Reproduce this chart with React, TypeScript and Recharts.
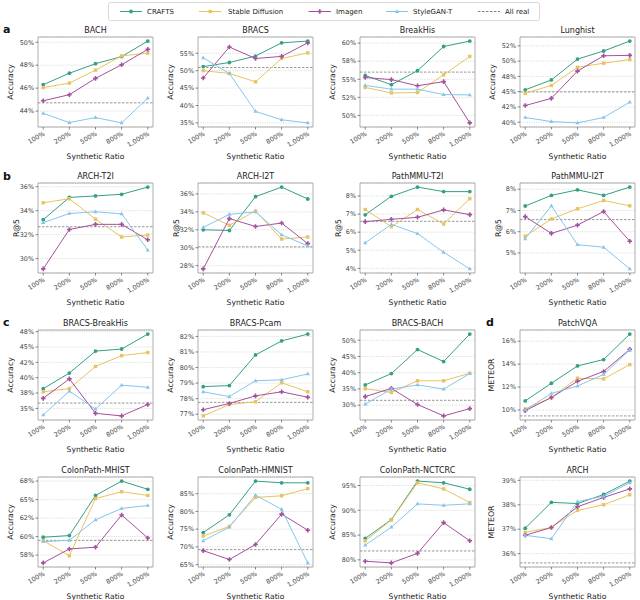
import React from "react";
import { LineChart, Line, XAxis, YAxis, CartesianGrid, ReferenceLine, ReferenceArea } from "recharts";

const RATIOS = ["100%", "200%", "500%", "800%", "1,000%"];

// ---- a ----
const BACH_CRAFTS = [46.3, 47.3, 48.13, 48.75, 50.1];
const BACH_SD = [46.05, 46.44, 47.57, 48.81, 49.05];
const BACH_IMAGEN = [44.9, 45.43, 46.85, 48.04, 49.38];
const BACH_STYLEGAN = [43.8, 43.0, 43.44, 42.97, 45.13];
const BACH_REAL = 44.72;

const BRACS_CRAFTS = [51.18, 52.35, 54.2, 58.0, 58.5];
const BRACS_SD = [50.0, 49.2, 46.8, 53.5, 55.1];
const BRACS_IMAGEN = [47.9, 56.8, 53.5, 54.1, 58.0];
const BRACS_STYLEGAN = [53.7, 49.2, 38.3, 35.9, 35.0];
const BRACS_REAL = 50.9;

const BREAKHIS_CRAFTS = [55.52, 54.25, 56.18, 59.53, 60.28];
const BREAKHIS_SD = [53.87, 53.11, 53.16, 55.61, 58.16];
const BREAKHIS_IMAGEN = [55.24, 54.95, 54.1, 54.67, 48.96];
const BREAKHIS_STYLEGAN = [54.15, 53.63, 53.63, 52.88, 52.83];
const BREAKHIS_REAL = 55.99;

const LUNG_CRAFTS = [45.3, 46.92, 50.33, 51.66, 53.28];
const LUNG_SD = [44.74, 46.03, 48.99, 49.66, 50.27];
const LUNG_IMAGEN = [42.73, 43.91, 48.37, 50.88, 50.94];
const LUNG_STYLEGAN = [40.78, 40.11, 39.89, 40.78, 43.29];
const LUNG_REAL = 44.97;

// ---- b ----
const AT2I_CRAFTS = [33.25, 35.11, 35.23, 35.37, 35.97];
const AT2I_SD = [34.66, 35.0, 33.29, 31.8, 31.97];
const AT2I_IMAGEN = [29.14, 32.43, 32.86, 32.86, 31.57];
const AT2I_STYLEGAN = [33.0, 33.77, 33.91, 33.74, 30.71];
const AT2I_REAL = 32.66;

const AI2T_CRAFTS = [32.0, 31.92, 35.69, 36.76, 35.43];
const AI2T_SD = [33.89, 32.5, 34.1, 30.97, 31.2];
const AI2T_IMAGEN = [27.64, 33.25, 32.37, 32.75, 30.46];
const AI2T_STYLEGAN = [32.27, 33.72, 34.0, 31.44, 30.2];
const AI2T_REAL = 30.1;

const PT2I_CRAFTS = [6.96, 7.98, 8.49, 8.24, 8.24];
const PT2I_SD = [7.25, 6.3, 7.25, 6.45, 7.85];
const PT2I_IMAGEN = [6.58, 6.71, 6.82, 7.23, 6.97];
const PT2I_STYLEGAN = [5.41, 6.43, 5.92, 4.89, 3.97];
const PT2I_REAL = 6.6;

const PI2T_CRAFTS = [7.21, 7.71, 7.97, 7.71, 8.1];
const PI2T_SD = [5.79, 6.6, 7.08, 7.47, 7.22];
const PI2T_IMAGEN = [6.71, 5.92, 6.31, 6.95, 5.55];
const PI2T_STYLEGAN = [5.67, 7.22, 5.39, 5.27, 4.25];
const PI2T_REAL = 6.57;

// ---- c ----
const BBH_CRAFTS = [38.22, 40.76, 44.33, 44.67, 47.1];
const BBH_SD = [37.71, 38.22, 41.84, 43.59, 44.1];
const BBH_IMAGEN = [36.64, 39.81, 34.2, 33.78, 35.64];
const BBH_STYLEGAN = [33.94, 37.82, 34.9, 38.78, 38.44];
const BBH_REAL = 35.87;

const BPC_CRAFTS = [78.77, 78.84, 80.81, 81.71, 82.15];
const BPC_SD = [76.89, 77.62, 77.8, 79.02, 78.44];
const BPC_IMAGEN = [77.29, 77.69, 78.18, 78.44, 78.09];
const BPC_STYLEGAN = [78.44, 78.13, 79.15, 79.21, 79.59];
const BPC_REAL = 77.76;

const BBA_CRAFTS = [36.24, 39.74, 47.14, 43.44, 51.9];
const BBA_SD = [35.08, 33.92, 37.51, 37.51, 39.84];
const BBA_IMAGEN = [32.65, 35.19, 30.21, 26.7, 28.94];
const BBA_STYLEGAN = [30.32, 34.97, 36.24, 34.97, 39.74];
const BBA_REAL = 31.5;

// ---- d ----
const PVQA_CRAFTS = [10.79, 12.33, 13.84, 14.4, 16.62];
const PVQA_SD = [10.09, 11.08, 12.77, 12.71, 13.96];
const PVQA_IMAGEN = [9.94, 11.08, 12.5, 13.36, 15.29];
const PVQA_STYLEGAN = [10.0, 11.44, 12.09, 13.1, 15.23];
const PVQA_REAL = 9.48;

const MHIST_CRAFTS = [59.91, 60.14, 65.56, 67.5, 66.39];
const MHIST_SD = [59.44, 57.41, 65.14, 66.06, 65.56];
const MHIST_IMAGEN = [56.44, 58.33, 58.56, 62.92, 59.81];
const MHIST_STYLEGAN = [59.31, 59.49, 62.27, 63.8, 64.21];
const MHIST_REAL = 59.49;

const HMNIST_CRAFTS = [74.04, 79.04, 88.56, 88.08, 88.08];
const HMNIST_SD = [73.08, 75.77, 83.94, 84.42, 86.44];
const HMNIST_IMAGEN = [68.94, 66.44, 70.67, 79.23, 74.71];
const HMNIST_STYLEGAN = [71.73, 75.58, 84.62, 80.58, 65.48];
const HMNIST_REAL = 69.23;

const NCT_CRAFTS = [84.33, 88.12, 95.89, 95.55, 94.24];
const NCT_SD = [83.85, 88.05, 95.55, 94.31, 91.56];
const NCT_IMAGEN = [79.72, 79.38, 81.3, 87.5, 83.85];
const NCT_STYLEGAN = [82.96, 86.6, 91.29, 91.01, 91.29];
const NCT_REAL = 81.79;

const ARCH_CRAFTS = [37.04, 38.1, 38.05, 38.42, 38.97];
const ARCH_SD = [36.87, 37.07, 37.77, 38.0, 38.41];
const ARCH_IMAGEN = [36.75, 37.07, 37.92, 38.3, 38.65];
const ARCH_STYLEGAN = [36.75, 36.61, 38.13, 38.35, 38.9];
const ARCH_REAL = 35.62;

type Panel = {
  title: string;
  ylabel: string;
  crafts: number[];
  sd: number[];
  imagen: number[];
  stylegan: number[];
  real: number;
  ticks: number[];
  tickLabels: string[];
  col: number;
  row: number;
};

const PANELS: Panel[] = [
  { title: "BACH", ylabel: "Accuracy", crafts: BACH_CRAFTS, sd: BACH_SD, imagen: BACH_IMAGEN, stylegan: BACH_STYLEGAN, real: BACH_REAL, ticks: [44, 46, 48, 50], tickLabels: ["44%", "46%", "48%", "50%"], col: 0, row: 0 },
  { title: "BRACS", ylabel: "Accuracy", crafts: BRACS_CRAFTS, sd: BRACS_SD, imagen: BRACS_IMAGEN, stylegan: BRACS_STYLEGAN, real: BRACS_REAL, ticks: [35, 40, 45, 50, 55], tickLabels: ["35%", "40%", "45%", "50%", "55%"], col: 1, row: 0 },
  { title: "BreakHis", ylabel: "Accuracy", crafts: BREAKHIS_CRAFTS, sd: BREAKHIS_SD, imagen: BREAKHIS_IMAGEN, stylegan: BREAKHIS_STYLEGAN, real: BREAKHIS_REAL, ticks: [50, 52.5, 55, 57.5, 60], tickLabels: ["50%", "52%", "55%", "58%", "60%"], col: 2, row: 0 },
  { title: "Lunghist", ylabel: "Accuracy", crafts: LUNG_CRAFTS, sd: LUNG_SD, imagen: LUNG_IMAGEN, stylegan: LUNG_STYLEGAN, real: LUNG_REAL, ticks: [40, 42.5, 45, 47.5, 50, 52.5], tickLabels: ["40%", "42%", "45%", "48%", "50%", "52%"], col: 3, row: 0 },
  { title: "ARCH-T2I", ylabel: "R@5", crafts: AT2I_CRAFTS, sd: AT2I_SD, imagen: AT2I_IMAGEN, stylegan: AT2I_STYLEGAN, real: AT2I_REAL, ticks: [30, 32, 34, 36], tickLabels: ["30%", "32%", "34%", "36%"], col: 0, row: 1 },
  { title: "ARCH-I2T", ylabel: "R@5", crafts: AI2T_CRAFTS, sd: AI2T_SD, imagen: AI2T_IMAGEN, stylegan: AI2T_STYLEGAN, real: AI2T_REAL, ticks: [28, 30, 32, 34, 36], tickLabels: ["28%", "30%", "32%", "34%", "36%"], col: 1, row: 1 },
  { title: "PathMMU-T2I", ylabel: "R@5", crafts: PT2I_CRAFTS, sd: PT2I_SD, imagen: PT2I_IMAGEN, stylegan: PT2I_STYLEGAN, real: PT2I_REAL, ticks: [4, 5, 6, 7, 8], tickLabels: ["4%", "5%", "6%", "7%", "8%"], col: 2, row: 1 },
  { title: "PathMMU-I2T", ylabel: "R@5", crafts: PI2T_CRAFTS, sd: PI2T_SD, imagen: PI2T_IMAGEN, stylegan: PI2T_STYLEGAN, real: PI2T_REAL, ticks: [5, 6, 7, 8], tickLabels: ["5%", "6%", "7%", "8%"], col: 3, row: 1 },
  { title: "BRACS-BreakHis", ylabel: "Accuracy", crafts: BBH_CRAFTS, sd: BBH_SD, imagen: BBH_IMAGEN, stylegan: BBH_STYLEGAN, real: BBH_REAL, ticks: [35, 37.5, 40, 42.5, 45, 47.5], tickLabels: ["35%", "38%", "40%", "42%", "45%", "48%"], col: 0, row: 2 },
  { title: "BRACS-Pcam", ylabel: "Accuracy", crafts: BPC_CRAFTS, sd: BPC_SD, imagen: BPC_IMAGEN, stylegan: BPC_STYLEGAN, real: BPC_REAL, ticks: [77, 78, 79, 80, 81, 82], tickLabels: ["77%", "78%", "79%", "80%", "81%", "82%"], col: 1, row: 2 },
  { title: "BRACS-BACH", ylabel: "Accuracy", crafts: BBA_CRAFTS, sd: BBA_SD, imagen: BBA_IMAGEN, stylegan: BBA_STYLEGAN, real: BBA_REAL, ticks: [30, 35, 40, 45, 50], tickLabels: ["30%", "35%", "40%", "45%", "50%"], col: 2, row: 2 },
  { title: "PatchVQA", ylabel: "METEOR", crafts: PVQA_CRAFTS, sd: PVQA_SD, imagen: PVQA_IMAGEN, stylegan: PVQA_STYLEGAN, real: PVQA_REAL, ticks: [10, 12, 14, 16], tickLabels: ["10%", "12%", "14%", "16%"], col: 3, row: 2 },
  { title: "ColonPath-MHIST", ylabel: "Accuracy", crafts: MHIST_CRAFTS, sd: MHIST_SD, imagen: MHIST_IMAGEN, stylegan: MHIST_STYLEGAN, real: MHIST_REAL, ticks: [57.5, 60, 62.5, 65, 67.5], tickLabels: ["58%", "60%", "62%", "65%", "68%"], col: 0, row: 3 },
  { title: "ColonPath-HMNIST", ylabel: "Accuracy", crafts: HMNIST_CRAFTS, sd: HMNIST_SD, imagen: HMNIST_IMAGEN, stylegan: HMNIST_STYLEGAN, real: HMNIST_REAL, ticks: [65, 70, 75, 80, 85], tickLabels: ["65%", "70%", "75%", "80%", "85%"], col: 1, row: 3 },
  { title: "ColonPath-NCTCRC", ylabel: "Accuracy", crafts: NCT_CRAFTS, sd: NCT_SD, imagen: NCT_IMAGEN, stylegan: NCT_STYLEGAN, real: NCT_REAL, ticks: [80, 85, 90, 95], tickLabels: ["80%", "85%", "90%", "95%"], col: 2, row: 3 },
  { title: "ARCH", ylabel: "METEOR", crafts: ARCH_CRAFTS, sd: ARCH_SD, imagen: ARCH_IMAGEN, stylegan: ARCH_STYLEGAN, real: ARCH_REAL, ticks: [36, 37, 38, 39], tickLabels: ["36%", "37%", "38%", "39%"], col: 3, row: 3 },
];

const COL_X = [38, 198, 360, 520];
const ROW_Y = [37, 183, 330, 477];
const PW = 115;
const PH = 90;
const YW = 40;
const MT = 5;
const MR = 5;
const XH = 40;

const C_CRAFTS = "#35a086";
const C_SD = "#e8c35e";
const C_IMAGEN = "#a4519c";
const C_STYLEGAN = "#86c6ec";
const C_REAL = "#7c7c7c";

const SERIES = [
  { key: "crafts", name: "CRAFTS", color: C_CRAFTS, shape: "circle" },
  { key: "sd", name: "Stable Diffusion", color: C_SD, shape: "square" },
  { key: "imagen", name: "Imagen", color: C_IMAGEN, shape: "plus" },
  { key: "stylegan", name: "StyleGAN-T", color: C_STYLEGAN, shape: "triangle" },
];

const FONT = "'DejaVu Sans', 'Liberation Sans', sans-serif";

function Marker({ shape, cx, cy, color }: { shape: string; cx: number; cy: number; color: string }) {
  if (shape === "circle") return <circle cx={cx} cy={cy} r={1.9} fill={color} />;
  if (shape === "square") return <rect x={cx - 1.7} y={cy - 1.7} width={3.4} height={3.4} fill={color} />;
  if (shape === "plus")
    return (
      <path
        d={`M${cx - 0.8},${cy - 2.3}h1.6v1.5h1.5v1.6h-1.5v1.5h-1.6v-1.5h-1.5v-1.6h1.5z`}
        fill={color}
      />
    );
  return <path d={`M${cx},${cy - 2.3}L${cx + 2.1},${cy + 1.4}L${cx - 2.1},${cy + 1.4}Z`} fill={color} />;
}

const XTick = (props: any) => {
  const { x, y, payload } = props;
  const ax = x + 2;
  const ay = y + 5.5;
  return (
    <text x={ax} y={ay} textAnchor="end" fontSize={6.4} fill="#444" fontFamily={FONT} transform={`rotate(-30, ${ax}, ${ay})`}>
      {RATIOS[payload.value]}
    </text>
  );
};

function PanelChart({ p }: { p: Panel }) {
  const left = COL_X[p.col];
  const top = ROW_Y[p.row];
  const data = RATIOS.map((_, i) => ({
    x: i,
    crafts: p.crafts[i],
    sd: p.sd[i],
    imagen: p.imagen[i],
    stylegan: p.stylegan[i],
  }));
  const vals = [...p.crafts, ...p.sd, ...p.imagen, ...p.stylegan, p.real];
  const lo = Math.min(...vals);
  const hi = Math.max(...vals);
  const pad = (hi - lo) * 0.05;
  const yDomain: [number, number] = [lo - pad, hi + pad];
  const fmt = (v: number) => {
    const i = p.ticks.indexOf(v);
    return i >= 0 ? p.tickLabels[i] : String(v);
  };
  return (
    <div style={{ position: "absolute", left: left - YW, top: top - MT }}>
      <LineChart width={YW + PW + MR} height={MT + PH + XH} data={data} margin={{ top: MT, right: MR, left: 0, bottom: 0 }}>
        <CartesianGrid vertical={false} stroke="#c8c8c8" strokeDasharray="1 1.3" strokeWidth={0.7} />
        <XAxis
          dataKey="x"
          type="number"
          domain={[-0.2, 4.2]}
          ticks={[0, 1, 2, 3, 4]}
          interval={0}
          height={XH}
          axisLine={false}
          tickLine={{ stroke: "#555", strokeWidth: 0.7 }}
          tickSize={2.5}
          tickMargin={0}
          tick={<XTick />}
          allowDataOverflow
        />
        <YAxis
          type="number"
          domain={yDomain}
          ticks={p.ticks}
          interval={0}
          width={YW}
          axisLine={false}
          tickLine={{ stroke: "#555", strokeWidth: 0.7 }}
          tickSize={2.5}
          tickMargin={1.5}
          tick={{ fontSize: 6.4, fill: "#444", fontFamily: FONT }}
          tickFormatter={fmt}
          allowDataOverflow
        />
        <ReferenceLine y={p.real} stroke={C_REAL} strokeDasharray="2.5 1.5" strokeWidth={0.8} />
        {SERIES.map((s) => (
          <Line
            key={s.key}
            dataKey={s.key}
            type="linear"
            stroke={s.color}
            strokeWidth={1}
            isAnimationActive={false}
            dot={(dp: any) => <Marker key={`${s.key}-${dp.index}`} shape={s.shape} cx={dp.cx} cy={dp.cy} color={s.color} />}
            activeDot={false}
          />
        ))}
        <ReferenceArea x1={-0.2} x2={4.2} y1={yDomain[0]} y2={yDomain[1]} fill="none" fillOpacity={0} stroke="#9a9a9a" strokeWidth={0.8} />
      </LineChart>
    </div>
  );
}

const LEGEND_ITEMS = [
  { name: "CRAFTS", color: C_CRAFTS, shape: "circle", x1: 120, x2: 142, tx: 147 },
  { name: "Stable Diffusion", color: C_SD, shape: "square", x1: 199, x2: 221.5, tx: 228 },
  { name: "Imagen", color: C_IMAGEN, shape: "plus", x1: 308.5, x2: 331, tx: 336 },
  { name: "StyleGAN-T", color: C_STYLEGAN, shape: "triangle", x1: 386, x2: 408, tx: 413 },
  { name: "All real", color: C_REAL, shape: "none", x1: 478, x2: 500, tx: 505 },
];

function yLabelOffset(label: string) {
  if (label === "R@5") return 22;
  if (label === "METEOR") return 29;
  return 28;
}

export default function App() {
  return (
    <div style={{ position: "fixed", left: 0, top: 0, width: 640, height: 600, background: "#fff", fontFamily: FONT }}>
      <svg width={640} height={600} style={{ position: "absolute", left: 0, top: 0 }} fontFamily={FONT}>
        <rect x={108.5} y={2.5} width={431} height={18} rx={2} fill="#fff" stroke="#cfcfcf" strokeWidth={0.8} />
        {LEGEND_ITEMS.map((it) => (
          <g key={it.name}>
            <line
              x1={it.x1}
              x2={it.x2}
              y1={11.5}
              y2={11.5}
              stroke={it.color}
              strokeWidth={1}
              strokeDasharray={it.shape === "none" ? "2.5 1.5" : undefined}
            />
            {it.shape !== "none" && <Marker shape={it.shape} cx={(it.x1 + it.x2) / 2} cy={11.5} color={it.color} />}
            <text x={it.tx} y={14} fontSize={7} fill="#222">
              {it.name}
            </text>
          </g>
        ))}
        <text x={3} y={33} fontSize={11} fontWeight="bold" fill="#111">a</text>
        <text x={3} y={180} fontSize={11} fontWeight="bold" fill="#111">b</text>
        <text x={3} y={326} fontSize={11} fontWeight="bold" fill="#111">c</text>
        <text x={486} y={326} fontSize={11} fontWeight="bold" fill="#111">d</text>
        {PANELS.map((p) => {
          const left = COL_X[p.col];
          const top = ROW_Y[p.row];
          const cx = left + PW / 2;
          const ly = top + PH / 2;
          const lx = left - yLabelOffset(p.ylabel);
          return (
            <g key={p.title}>
              <text x={cx} y={top - 4.5} fontSize={8} textAnchor="middle" fill="#222">
                {p.title}
              </text>
              <text x={cx} y={top + PH + 31.5} fontSize={7.6} textAnchor="middle" fill="#222">
                Synthetic Ratio
              </text>
              <text
                x={lx}
                y={ly}
                fontSize={7.8}
                textAnchor="middle"
                dominantBaseline="central"
                fill="#222"
                transform={`rotate(-90, ${lx}, ${ly})`}
              >
                {p.ylabel}
              </text>
            </g>
          );
        })}
      </svg>
      {PANELS.map((p) => (
        <PanelChart key={p.title} p={p} />
      ))}
    </div>
  );
}
